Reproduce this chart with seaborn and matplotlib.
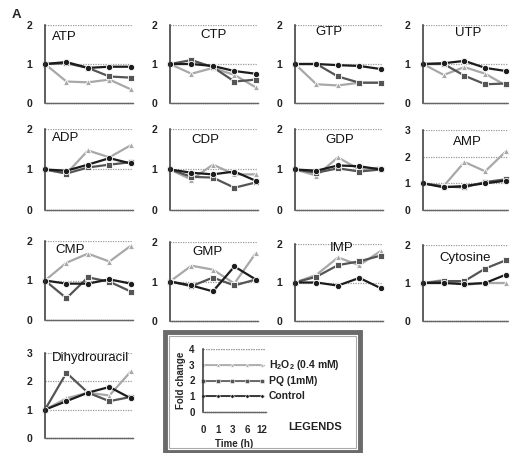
import matplotlib
matplotlib.use("Agg")
import matplotlib.pyplot as plt
import seaborn as sns
import pandas as pd
from matplotlib.patches import Rectangle

sns.set_style("white")
plt.rcParams['font.family'] = ['Liberation Sans', 'DejaVu Sans']
plt.rcParams['mathtext.fontset'] = 'custom'
plt.rcParams['mathtext.rm'] = 'Liberation Sans:bold'

time_labels = ["0", "1", "3", "6", "12"]
treatments = ["H2O2", "PQ", "Control"]

panels = ["ATP", "CTP", "GTP", "UTP", "ADP", "CDP", "GDP", "AMP",
          "CMP", "GMP", "IMP", "Cytosine", "Dihydrouracil"]

control = {
    "ATP": [1, 1.05, 0.9, 0.93, 0.93],
    "CTP": [1, 1.0, 0.95, 0.82, 0.75],
    "GTP": [1, 1.0, 0.97, 0.95, 0.87],
    "UTP": [1, 1.02, 1.08, 0.9, 0.82],
    "ADP": [1, 0.97, 1.12, 1.28, 1.15],
    "CDP": [1, 0.92, 0.88, 0.95, 0.72],
    "GDP": [1, 0.97, 1.1, 1.08, 1.0],
    "AMP": [1, 0.85, 0.9, 1.0, 1.1],
    "CMP": [1, 0.92, 0.92, 1.03, 0.92],
    "GMP": [1, 0.9, 0.75, 1.38, 1.05],
    "IMP": [1, 1.0, 0.92, 1.12, 0.85],
    "Cytosine": [1, 1.0, 0.97, 1.0, 1.22],
    "Dihydrouracil": [1, 1.3, 1.6, 1.8, 1.4],
}
pq = {
    "ATP": [1, 1.02, 0.9, 0.68, 0.65],
    "CTP": [1, 1.1, 0.92, 0.55, 0.6],
    "GTP": [1, 1.0, 0.68, 0.52, 0.52],
    "UTP": [1, 1.0, 0.7, 0.48, 0.5],
    "ADP": [1, 0.9, 1.05, 1.12, 1.18],
    "CDP": [1, 0.82, 0.8, 0.55, 0.68],
    "GDP": [1, 0.92, 1.03, 0.95, 1.0],
    "AMP": [1, 0.88, 0.85, 1.05, 1.15],
    "CMP": [1, 0.55, 1.08, 0.97, 0.72],
    "GMP": [1, 0.88, 1.1, 0.9, 1.05],
    "IMP": [1, 1.15, 1.45, 1.55, 1.7],
    "Cytosine": [1, 1.05, 1.05, 1.38, 1.6],
    "Dihydrouracil": [1, 2.3, 1.6, 1.3, 1.45],
}
h2o2 = {
    "ATP": [1, 0.55, 0.53, 0.6, 0.35],
    "CTP": [1, 0.75, 0.9, 0.72, 0.4],
    "GTP": [1, 0.48, 0.45, 0.52, 0.52],
    "UTP": [1, 0.72, 0.92, 0.75, 0.45],
    "ADP": [1, 0.9, 1.47, 1.3, 1.6],
    "CDP": [1, 0.75, 1.12, 0.88, 0.88],
    "GDP": [1, 0.85, 1.3, 1.0, 1.05],
    "AMP": [1, 0.9, 1.8, 1.45, 2.2],
    "CMP": [1, 1.45, 1.68, 1.48, 1.88],
    "GMP": [1, 1.4, 1.3, 0.95, 1.72],
    "IMP": [1, 1.2, 1.65, 1.45, 1.82],
    "Cytosine": [1, 1.08, 0.95, 1.0, 1.0],
    "Dihydrouracil": [1, 1.4, 1.6, 1.5, 2.35],
}
ymax = {p: 2 for p in panels}
ymax["AMP"] = 3
ymax["Dihydrouracil"] = 3

legend_levels = {"H2O2": 3, "PQ": 2, "Control": 1}
legend_text = {"H2O2": r"H$_2$O$_2$ (0.4 mM)", "PQ": "PQ (1mM)", "Control": "Control"}

rows = []
for p in panels:
    for tr, src in (("H2O2", h2o2), ("PQ", pq), ("Control", control)):
        for i, v in enumerate(src[p]):
            rows.append({"panel": p, "treatment": tr, "t": i, "value": v})
df = pd.DataFrame(rows)

palette = {"H2O2": "#a8a8a8", "PQ": "#555555", "Control": "#1c1c1c"}
markers = {"H2O2": "^", "PQ": "s", "Control": "o"}

W, H = 515, 453
fig = plt.figure(figsize=(W / 100, H / 100), dpi=100)

def rect(l, t, r, b):
    return [l / W, 1 - b / H, (r - l) / W, (b - t) / H]

layout = {
    "ATP": (45, 25, 133, 103), "CTP": (170, 25, 258, 103),
    "GTP": (295, 25, 383, 103), "UTP": (423, 25, 508, 103),
    "ADP": (45, 129, 133, 210), "CDP": (170, 129, 258, 210),
    "GDP": (295, 129, 383, 210), "AMP": (423, 130, 508, 210),
    "CMP": (45, 241, 133, 320), "GMP": (170, 242, 258, 321),
    "IMP": (295, 244, 383, 321), "Cytosine": (423, 245, 508, 321),
    "Dihydrouracil": (45, 353, 133, 438),
}
title_pos = {
    "ATP": (0.08, 0.85, "left"), "CTP": (0.5, 0.87, "center"),
    "GTP": (0.38, 0.91, "center"), "UTP": (0.53, 0.9, "center"),
    "ADP": (0.08, 0.89, "left"), "CDP": (0.4, 0.87, "center"),
    "GDP": (0.51, 0.87, "center"), "AMP": (0.52, 0.85, "center"),
    "CMP": (0.12, 0.88, "left"), "GMP": (0.43, 0.87, "center"),
    "IMP": (0.53, 0.95, "center"), "Cytosine": (0.5, 0.83, "center"),
    "Dihydrouracil": (0.08, 0.94, "left"),
}

def style_axes(ax, top):
    ax.set_ylim(0, top)
    ax.set_xlim(0, 4.1)
    ax.set_yticks(range(0, top + 1))
    ax.set_xticks(range(5))
    for y in range(1, top + 1):
        ax.axhline(y, color="#9a9a9a", lw=0.9, ls=(0, (1, 1)), zorder=0)
    for s in ("top", "right"):
        ax.spines[s].set_visible(False)
    ax.spines["left"].set_color("#333333")
    ax.spines["left"].set_linewidth(1.1)
    ax.spines["bottom"].set_color("#666666")
    ax.spines["bottom"].set_linewidth(1.0)
    ax.spines["bottom"].set_linestyle((0, (1, 0.5)))
    ax.tick_params(axis="y", length=0, pad=9, labelsize=7.5, colors="#222222")
    ax.tick_params(axis="x", direction="out", length=2.5, width=0.8, color="#555555")
    for lab in ax.get_yticklabels():
        lab.set_fontweight("bold")
    ax.set_xlabel("")
    ax.set_ylabel("")

for p in panels:
    ax = fig.add_axes(rect(*layout[p]))
    sub = df[df.panel == p]
    sns.lineplot(data=sub, x="t", y="value", hue="treatment", style="treatment",
                 hue_order=treatments, style_order=treatments,
                 palette=palette, markers=markers, dashes=False, markersize=4.5,
                 markeredgewidth=0.6, linewidth=1.6, legend=False, ax=ax,
                 clip_on=False)
    style_axes(ax, ymax[p])
    ax.set_xticklabels([])
    tx, ty, ha = title_pos[p]
    ax.text(tx, ty, p, transform=ax.transAxes, ha=ha, va="center", fontsize=9.5,
            color="#111111")

fig.text(12 / W, 1 - 15 / H, "A", fontsize=9.5, fontweight="bold", ha="left", va="center")

# legend panel
box = Rectangle((165 / W, 1 - 452 / H), 195 / W, 120 / H, transform=fig.transFigure,
                fill=False, edgecolor="#6a6a6a", lw=3.5)
fig.patches.append(box)
box2 = Rectangle((169 / W, 1 - 448 / H), 187 / W, 112 / H, transform=fig.transFigure,
                 fill=False, edgecolor="#aaaaaa", lw=0.8)
fig.patches.append(box2)

lax = fig.add_axes(rect(203, 349, 266, 412))
lrows = []
for tr in treatments:
    for i in range(5):
        lrows.append({"treatment": tr, "t": i, "value": legend_levels[tr]})
ldf = pd.DataFrame(lrows)
sns.lineplot(data=ldf, x="t", y="value", hue="treatment", style="treatment",
             hue_order=treatments, style_order=treatments, palette=palette,
             markers=markers, dashes=False, markersize=2.5, markeredgewidth=0.4,
             linewidth=1.2, legend=False, ax=lax, clip_on=False)
style_axes(lax, 4)
lax.set_xlim(0, 4.3)
lax.axhline(4, color="#9a9a9a", lw=0.9, ls=(0, (1, 1)))
lax.set_xticklabels(time_labels, fontsize=7, fontweight="bold")
lax.tick_params(axis="x", pad=7)
lax.tick_params(axis="y", pad=6, labelsize=7)
lax.set_xlabel("Time (h)", fontsize=7, fontweight="bold", labelpad=3)
lax.set_ylabel("Fold change", fontsize=7, fontweight="bold", labelpad=2)
for tr in treatments:
    lax.text(4.5, legend_levels[tr], legend_text[tr], fontsize=7.5, va="center",
             ha="left", color="#222222", fontweight="bold")
fig.text(288 / W, 1 - 427 / H, "LEGENDS", fontsize=8, fontweight="bold",
         ha="left", va="center", color="#222222")

fig.savefig("out.png", dpi=100)
